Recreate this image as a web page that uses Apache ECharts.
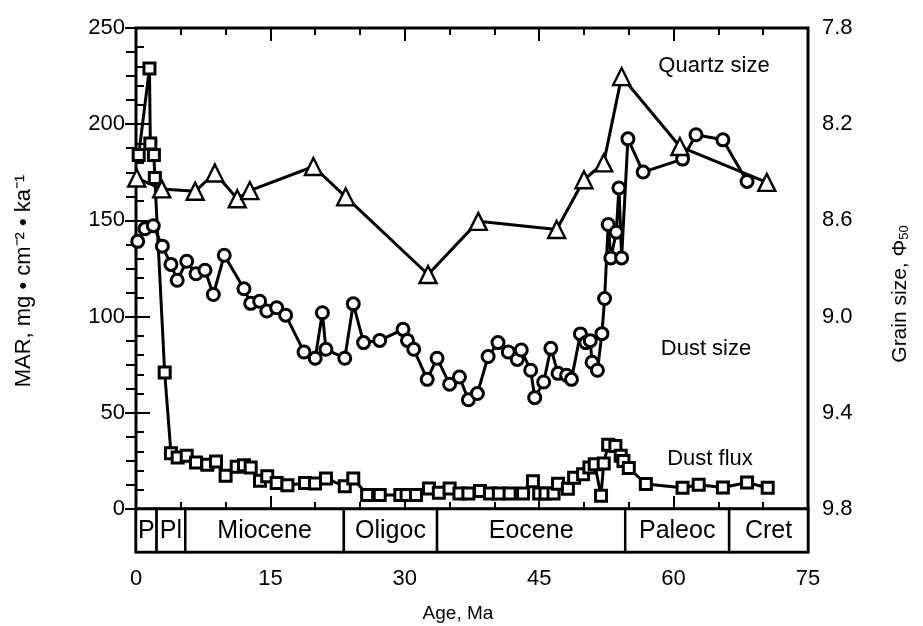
<!DOCTYPE html>
<html>
<head>
<meta charset="utf-8">
<script src="https://cdn.jsdelivr.net/npm/echarts@6/dist/echarts.min.js"></script>
<style>
html, body { margin: 0; background: #fff; }
#chart { width: 923px; height: 626px; }
</style>
</head>
<body>
<div id="chart"></div>
<script>
// 粉尘通量 MAR (左轴)  [年龄 Ma, 值]
var dustFlux = [
    [0.3, 184], [1.5, 229], [1.6, 190], [2.0, 184], [2.1, 172], [3.2, 71],
    [3.9, 29], [4.65, 26.8], [5.66, 27.7], [6.7, 24.2], [7.96, 23], [8.93, 24.7],
    [10.0, 17.3], [11.24, 22], [12.05, 22.8], [12.8, 21.6], [13.84, 14.7], [14.65, 17],
    [15.7, 13.5], [16.9, 12.4], [18.86, 13.5], [19.98, 13.3], [21.2, 15.9], [23.3, 11.8],
    [24.25, 15.9], [25.8, 7.3], [27.2, 7.3], [29.5, 7.3], [30.2, 7.3], [31.25, 7.3],
    [32.7, 10.7], [33.8, 8.5], [35.0, 10.7], [36.1, 8.1], [37.1, 8.1], [38.4, 9.3],
    [39.5, 8.1], [40.5, 8.1], [41.7, 8.1], [43.2, 8.1], [44.3, 14.4], [45.0, 8.1],
    [45.7, 8.1], [46.6, 8.1], [47.1, 13.1], [48.2, 10.5], [48.9, 16.3], [49.9, 18.1],
    [50.6, 21.6], [51.2, 23.3], [51.9, 6.9], [52.2, 23.7], [52.7, 33.4], [53.5, 32.8],
    [54.1, 27.7], [54.4, 25], [55.0, 21.3], [56.9, 13], [61.0, 11], [62.8, 12.6],
    [65.5, 11.2], [68.2, 13.8], [70.5, 11]
];

// 粉尘粒径 phi (右轴)
var dustSize = [
    [0.19, 8.687], [1.0, 8.635], [1.93, 8.622], [2.94, 8.707], [3.9, 8.783], [4.6, 8.849],
    [5.66, 8.770], [6.7, 8.822], [7.7, 8.807], [8.63, 8.908], [9.85, 8.745], [12.05, 8.884],
    [12.8, 8.945], [13.8, 8.936], [14.6, 8.977], [15.7, 8.963], [16.7, 8.994], [18.75, 9.147],
    [20.0, 9.173], [20.8, 8.984], [21.2, 9.136], [23.3, 9.173], [24.25, 8.947], [25.4, 9.108],
    [27.2, 9.099], [29.8, 9.053], [30.3, 9.099], [31.0, 9.136], [32.5, 9.261], [33.6, 9.173],
    [35.0, 9.281], [36.1, 9.251], [37.1, 9.346], [38.1, 9.320], [39.3, 9.166], [40.4, 9.108],
    [41.55, 9.147], [42.55, 9.178], [43.0, 9.139], [44.05, 9.223], [44.5, 9.337], [45.5, 9.272],
    [46.3, 9.132], [47.1, 9.236], [48.06, 9.244], [48.6, 9.261], [49.6, 9.072], [50.2, 9.108],
    [50.7, 9.10], [50.9, 9.19], [51.5, 9.223], [52.0, 9.071], [52.3, 8.925], [52.7, 8.617],
    [53.0, 8.756], [53.6, 8.649], [53.9, 8.465], [54.2, 8.756], [54.9, 8.261], [56.6, 8.399],
    [61.0, 8.345], [62.5, 8.244], [65.5, 8.265], [68.2, 8.438]
];

// 石英粒径 phi (右轴)
var quartzSize = [
    [0.08, 8.424], [2.87, 8.469], [6.6, 8.479], [8.8, 8.403], [11.3, 8.51], [12.7, 8.476],
    [19.8, 8.376], [23.4, 8.502], [32.6, 8.825], [38.2, 8.604], [46.95, 8.638], [50.0, 8.431],
    [52.2, 8.361], [54.2, 8.002], [60.7, 8.293], [70.4, 8.442]
];

// 地质年代
var epochNames = ['P', 'Pl', 'Miocene', 'Oligoc', 'Eocene', 'Paleoc', 'Cret'];
var epochBounds = [0, 2.3, 5.5, 23.2, 33.6, 54.6, 66.2, 75];

var font = '"Liberation Sans", Arial, sans-serif';

var epochData = epochNames.map(function (name, i) {
    return [epochBounds[i], epochBounds[i + 1]];
});

function xTicks(pos) {
    return {
        gridIndex: 0,
        type: 'value',
        position: pos,
        min: 0,
        max: 75,
        interval: 15,
        axisLine: { show: false },
        axisTick: { show: true, inside: true, length: 13, lineStyle: { color: '#000', width: 2 } },
        minorTick: { show: true, splitNumber: 3, length: 7, lineStyle: { color: '#000', width: 2 } },
        axisLabel: { show: false },
        splitLine: { show: false }
    };
}

function seriesOf(name, data, yIndex, symbol, size, bw) {
    return {
        name: name,
        type: 'line',
        xAxisIndex: 0,
        yAxisIndex: yIndex,
        data: data,
        symbol: symbol,
        symbolSize: size,
        showAllSymbol: true,
        lineStyle: { color: '#000', width: 3 },
        itemStyle: { color: '#fff', borderColor: '#000', borderWidth: bw },
        z: 3
    };
}

var chart = echarts.init(document.getElementById('chart'));

chart.setOption({
    animation: false,
    backgroundColor: '#fff',
    grid: [
        { left: 136, top: 28, width: 672, height: 481, show: true, borderColor: '#000', borderWidth: 3 },
        { left: 136, top: 509, width: 672, height: 43, show: true, borderColor: '#000', borderWidth: 3 }
    ],
    xAxis: [
        xTicks('bottom'),
        xTicks('top'),
        {
            gridIndex: 1,
            type: 'value',
            min: 0,
            max: 75,
            interval: 15,
            axisLine: { show: false },
            axisTick: { show: false },
            splitLine: { show: false },
            axisLabel: { fontSize: 22, color: '#000', fontFamily: font, margin: 16 }
        }
    ],
    yAxis: [
        {
            gridIndex: 0,
            type: 'value',
            min: 0,
            max: 250,
            interval: 50,
            axisLine: { show: false },
            axisTick: { show: true, inside: true, length: 14, lineStyle: { color: '#000', width: 2 } },
            minorTick: { show: true, splitNumber: 5, length: 8, lineStyle: { color: '#000', width: 2 } },
            splitLine: { show: false },
            axisLabel: { fontSize: 22, color: '#000', fontFamily: font, margin: 11 }
        },
        {
            gridIndex: 0,
            type: 'value',
            position: 'right',
            inverse: true,
            min: 7.8,
            max: 9.8,
            interval: 0.4,
            axisLine: { show: false },
            axisTick: { show: true, inside: true, length: 11, lineStyle: { color: '#000', width: 2 } },
            minorTick: { show: true, splitNumber: 4, length: 10, lineStyle: { color: '#000', width: 2 } },
            splitLine: { show: false },
            axisLabel: {
                fontSize: 22, color: '#000', fontFamily: font, margin: 14,
                formatter: function (v) { return v.toFixed(1); }
            }
        },
        { gridIndex: 1, type: 'value', min: 0, max: 1, show: false }
    ],
    series: [
        seriesOf('Dust flux', dustFlux, 0, 'rect', 11, 3),
        seriesOf('Dust size', dustSize, 1, 'circle', 12, 3),
        seriesOf('Quartz size', quartzSize, 1, 'triangle', 17, 2.4),
        {
            type: 'custom',
            xAxisIndex: 2,
            yAxisIndex: 2,
            data: epochData,
            encode: { x: [0, 1] },
            renderItem: function (params, api) {
                var p0 = api.coord([api.value(0), 0]);
                var p1 = api.coord([api.value(1), 1]);
                return {
                    type: 'group',
                    children: [
                        {
                            type: 'rect',
                            shape: { x: p0[0], y: p1[1], width: p1[0] - p0[0], height: p0[1] - p1[1] },
                            style: { fill: '#fff', stroke: '#000', lineWidth: 2.5 }
                        },
                        {
                            type: 'text',
                            style: {
                                text: epochNames[params.dataIndex],
                                x: (p0[0] + p1[0]) / 2,
                                y: (p0[1] + p1[1]) / 2 + 1,
                                align: 'center',
                                verticalAlign: 'middle',
                                font: '25px ' + font,
                                fill: '#000'
                            }
                        }
                    ]
                };
            }
        }
    ],
    graphic: [
        {
            type: 'text', x: 24, y: 281, rotation: Math.PI / 2,
            style: {
                text: 'MAR, mg • cm⁻² • ka⁻¹', align: 'center', verticalAlign: 'middle',
                font: '22px ' + font, fill: '#000'
            }
        },
        {
            type: 'text', x: 900, y: 294, rotation: Math.PI / 2,
            style: {
                text: '{a|Grain size, Φ}{b|50}', align: 'center', verticalAlign: 'middle',
                font: '21px ' + font, fill: '#000',
                rich: {
                    a: { fontSize: 21, fontFamily: font, fill: '#000' },
                    b: { fontSize: 13, fontFamily: font, fill: '#000', padding: [8, 0, 0, 0] }
                }
            }
        },
        {
            type: 'text', x: 458, y: 614,
            style: { text: 'Age, Ma', align: 'center', verticalAlign: 'middle', font: '19px ' + font, fill: '#000' }
        },
        {
            type: 'text', x: 714, y: 66,
            style: { text: 'Quartz size', align: 'center', verticalAlign: 'middle', font: '22px ' + font, fill: '#000' }
        },
        {
            type: 'text', x: 706, y: 349,
            style: { text: 'Dust size', align: 'center', verticalAlign: 'middle', font: '22px ' + font, fill: '#000' }
        },
        {
            type: 'text', x: 710, y: 459,
            style: { text: 'Dust flux', align: 'center', verticalAlign: 'middle', font: '22px ' + font, fill: '#000' }
        }
    ]
});
</script>
</body>
</html>
